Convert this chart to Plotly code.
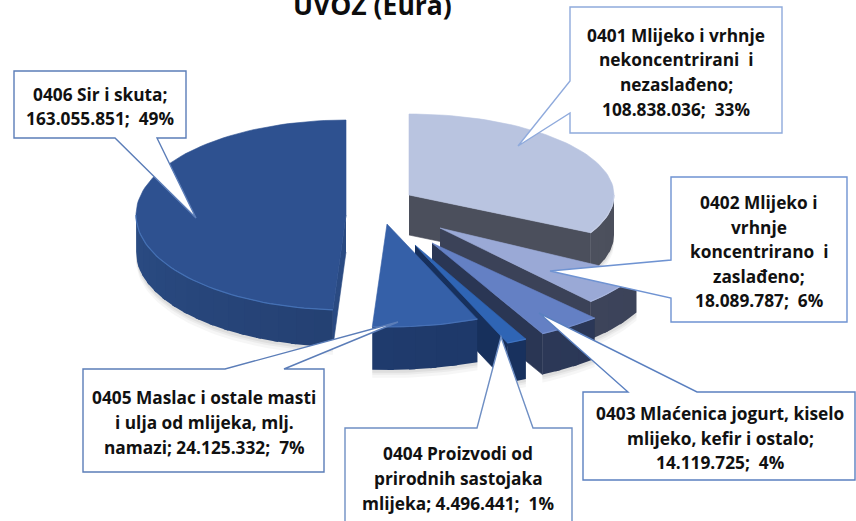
import numpy as np
import plotly.graph_objects as go

# ---------- data ----------
codes = ["0401", "0402", "0403", "0404", "0405", "0406"]
values = [108838036, 18089787, 14119725, 4496441, 24125332, 163055851]
title_text = "UVOZ (Eura)"
label_lines = [
    ["0401 Mlijeko i vrhnje", "nekoncentrirani  i", "nezaslađeno;", "108.838.036;  33%"],
    ["0402 Mlijeko i", "vrhnje", "koncentrirano  i", "zaslađeno;", "18.089.787;  6%"],
    ["0403 Mlaćenica jogurt, kiselo", "mlijeko, kefir i ostalo;", "14.119.725;  4%"],
    ["0404 Proizvodi od", "prirodnih sastojaka", "mlijeka; 4.496.441;  1%"],
    ["0405 Maslac i ostale masti", "i ulja od mlijeka, mlj.", "namazi; 24.125.332;  7%"],
    ["0406 Sir i skuta;", "163.055.851;  49%"],
]

# ---------- styling: perspective / explosion of each slice ----------
centers = [(409, 195), (440, 228), (432, 243), (415, 245), (387, 224), (346, 215)]
radii = [(205, 81), (222, 100), (240, 102), (241, 106), (236, 103), (210, 95)]
depths = [40, 38, 41, 40, 43, 37]
top_colors = ["#b9c4e0", "#9aa9d6", "#6480c4", "#2f65b5", "#3560a8", "#2e5190"]
face_colors = ["#4b4f5c", "#3b4258", "#2a3654", "#17305c", "#1d3766", "#2a4a82"]
wall_light = ["#555a68", "#444b63", "#303d5f", "#1a3564", "#24437a", "#2b4c84"]
wall_dark = ["#4b4f5c", "#3b4258", "#2a3654", "#17305c", "#1b3360", "#1e3560"]
bevel_colors = ["#c6cfe6", "#a9b6de", "#7690cf", "#3f74c2", "#4670b5", "#4470b4"]
callout_colors = ["#8faadc", "#6f93d2", "#5b80c0", "#6f8fc4", "#5b7db8", "#5b7db8"]

# callout box (x0, y0, x1, y1), pointer side, pointer base a, tip, pointer base b
callouts = [
    ((570, 7, 782, 133), "l", 81, (518, 146), 113),
    ((671, 177, 847, 322), "l", 260, (550, 271), 298),
    ((583, 392, 855, 480), "t", 628, (539, 313), 697),
    ((345, 428, 572, 530), "t", 477, (501, 337), 533),
    ((83, 369, 324, 472), "t", 225, (398, 322), 284),
    ((14, 71, 186, 138), "b", 115, (196, 218), 157),
]
text_anchor = [
    (676, [35, 59, 84, 109]),
    (759, [202, 227, 251, 276, 300]),
    (720, [413, 438, 462]),
    (458, [453, 478, 503]),
    (204, [397, 422, 447]),
    (100, [94, 118]),
]

FONT = "Open Sans"

# ---------- geometry from the values ----------
total = sum(values)
shares = np.array(values) / total * 360
ends = np.cumsum(shares)
starts = ends - shares


def to_rgb(h):
    return np.array([int(h[i:i + 2], 16) for i in (1, 3, 5)], float)


def mix(a, b, t):
    c = to_rgb(a) * (1 - t) + to_rgb(b) * t
    return "rgb(%d,%d,%d)" % tuple(c)


def arc(i, a0, a1, n=None):
    n = n or max(3, int(abs(a1 - a0) / 2) + 2)
    t = np.radians(np.linspace(a0, a1, n))
    cx, cy = centers[i]
    rx, ry = radii[i]
    return cx + rx * np.sin(t), cy - ry * np.cos(t)


def poly(fig, x, y, color, line=None, opacity=1.0, width=0.6):
    fig.add_trace(go.Scatter(
        x=list(x), y=list(y), mode="lines", fill="toself", fillcolor=color,
        line=dict(color=line or color, width=width), opacity=opacity,
        hoverinfo="skip", showlegend=False))


fig = go.Figure()

for i in [5, 0, 1, 2, 3, 4]:
    a0, a1 = starts[i], ends[i]
    cx, cy = centers[i]
    d = depths[i]
    ax, ay = arc(i, a0, a1)

    # soft shadow under the slice
    for off, op in ((8, 0.03), (5, 0.04), (3, 0.05)):
        lo0, lo1 = max(a0, 90), min(a1, 270)
        if lo1 > lo0:
            sx, sy = arc(i, lo0, lo1)
            poly(fig, np.r_[sx, sx[::-1]], np.r_[sy + d + off, sy[::-1]],
                 "rgba(0,0,0,1)", line="rgba(0,0,0,0)", opacity=op)

    # clockwise radial face (visible for slices pointing right of the viewer)
    if 90 < a1 < 180:
        ex, ey = ax[-1], ay[-1]
        poly(fig, [cx, ex, ex, cx], [cy, ey, ey + d, cy + d], face_colors[i])
    # counter-clockwise radial face (visible for slices starting left of the viewer)
    if 180 < a0 < 270:
        ex, ey = ax[0], ay[0]
        poly(fig, [cx, ex, ex, cx], [cy, ey, ey + d, cy + d], face_colors[i])

    # outer wall, split into overlapping strips for the light falloff
    lo0, lo1 = max(a0, 90), min(a1, 270)
    if lo1 > lo0:
        steps = max(1, int((lo1 - lo0) / 5))
        edges = np.linspace(lo0, lo1, steps + 1)
        for e0, e1 in zip(edges[:-1], edges[1:]):
            sx, sy = arc(i, e0, min(e1 + 1.5, lo1), 4)
            t = 1 - (((e0 + e1) / 2 - 90) / 180)
            poly(fig, np.r_[sx, sx[::-1]], np.r_[sy, sy[::-1] + d],
                 mix(wall_light[i], wall_dark[i], t), width=0)

    # top surface
    poly(fig, np.r_[cx, ax, cx], np.r_[cy, ay, cy], top_colors[i])

    # bevel highlight on the front rim
    lo0, lo1 = max(a0, 90), min(a1, 270)
    if lo1 > lo0:
        sx, sy = arc(i, lo0, lo1)
        fig.add_trace(go.Scatter(x=sx, y=sy, mode="lines",
                                 line=dict(color=bevel_colors[i], width=1.2),
                                 hoverinfo="skip", showlegend=False))

# ---------- callouts ----------
shapes = []
for (box, side, b0, tip, b1), col in zip(callouts, callout_colors):
    x0, y0, x1, y1 = box
    tx, ty = tip
    if side == "l":
        p = [(x0, y0), (x1, y0), (x1, y1), (x0, y1), (x0, b1), (tx, ty), (x0, b0)]
    elif side == "t":
        p = [(x0, y0), (b0, y0), (tx, ty), (b1, y0), (x1, y0), (x1, y1), (x0, y1)]
    else:
        p = [(x0, y0), (x1, y0), (x1, y1), (b1, y1), (tx, ty), (b0, y1), (x0, y1)]
    path = "M" + " L".join(f"{a},{b}" for a, b in p) + " Z"
    shapes.append(dict(type="path", path=path, xref="x", yref="y", layer="above",
                       fillcolor="white", line=dict(color=col, width=1.4)))

annotations = [dict(x=372, y=5, xref="x", yref="y", text=f"<b>{title_text}</b>",
                    showarrow=False, xanchor="center", yanchor="middle",
                    font=dict(family=FONT, size=26.5, color="#0d0d0d"))]
for lines, (tx, ys) in zip(label_lines, text_anchor):
    for line, ty in zip(lines, ys):
        annotations.append(dict(x=tx, y=ty, xref="x", yref="y", text=f"<b>{line}</b>",
                                showarrow=False, xanchor="center", yanchor="middle",
                                font=dict(family=FONT, size=17.3, color="#111111")))

fig.update_layout(
    width=856, height=521, margin=dict(l=0, r=0, t=0, b=0),
    paper_bgcolor="white", plot_bgcolor="white", showlegend=False,
    xaxis=dict(range=[0, 856], visible=False, fixedrange=True),
    yaxis=dict(range=[521, 0], visible=False, fixedrange=True),
    shapes=shapes, annotations=annotations,
)
fig.write_html("out.html", config=dict(displayModeBar=False),
               post_script="document.body.style.margin='0';")
